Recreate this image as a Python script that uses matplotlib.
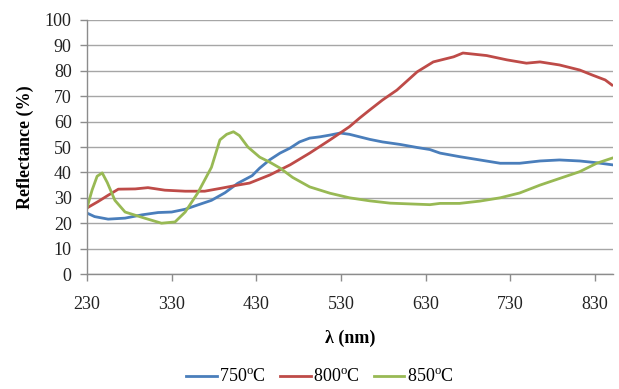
import matplotlib
matplotlib.use("Agg")
import matplotlib.pyplot as plt

plt.rcParams['font.family'] = ['Liberation Serif', 'DejaVu Serif']
plt.rcParams['mathtext.fontset'] = 'custom'
plt.rcParams['mathtext.rm'] = 'Liberation Serif'

# wavelength (nm) and reflectance (%) readings
wl_750 = [230, 239, 255, 275, 295, 314, 330, 346, 361, 377, 393, 408, 425, 434, 446, 458,
          470, 481, 493, 505, 517, 529, 540, 552, 564, 579, 600, 620, 635, 647, 670, 694,
          718, 741, 765, 788, 812, 832, 850]
r_750 = [24, 22.6, 21.6, 22, 23.3, 24.2, 24.4, 25.5, 27.2, 29, 32, 35.7, 38.7, 41.7, 45, 47.6,
         49.6, 52, 53.5, 54, 54.7, 55.5, 55, 54, 53, 52, 51, 49.8, 49, 47.6, 46.2, 44.9,
         43.6, 43.6, 44.5, 44.9, 44.5, 43.8, 43]

wl_800 = [230, 243, 255, 267, 287, 302, 322, 346, 369, 389, 408, 422, 446, 470, 493, 517,
          529, 540, 552, 564, 579, 596, 620, 639, 663, 674, 702, 726, 749, 765, 788, 812,
          827, 842, 850]
r_800 = [26, 28.5, 31, 33.4, 33.5, 34, 33, 32.6, 32.6, 33.8, 35, 35.8, 39, 43, 47.6, 52.8,
         55.5, 58, 61.4, 64.6, 68.5, 72.4, 79.6, 83.5, 85.5, 87, 86, 84.3, 83, 83.5, 82.3, 80.3,
         78.3, 76.4, 74.4]

wl_850 = [230, 236, 242, 248, 254, 263, 275, 298, 318, 334, 346, 361, 377, 387, 395, 403,
          410, 420, 434, 446, 458, 473, 493, 517, 540, 564, 588, 611, 635, 647, 670, 694,
          718, 741, 765, 788, 812, 832, 850]
r_850 = [26, 33, 38.5, 39.8, 36, 29, 24.4, 22, 20, 20.5, 24.4, 32, 42, 52.8, 55, 56,
         54.5, 50, 46, 44, 41.7, 38, 34.3, 31.8, 30, 28.8, 27.9, 27.6, 27.3, 27.8, 27.8, 28.7,
         30, 31.9, 35, 37.6, 40.3, 43.6, 45.6]

series_labels = ['750$^{\\mathrm{o}}$C', '800$^{\\mathrm{o}}$C', '850$^{\\mathrm{o}}$C']
x_ticks = [230, 330, 430, 530, 630, 730, 830]
y_ticks = list(range(0, 101, 10))

colors = ['#4a7ebb', '#be4b48', '#98b954']

fig = plt.figure(figsize=(6.19, 3.89), dpi=100)
ax = fig.add_axes([0.1405, 0.2956, 0.8495, 0.653])

for wl, r, lab, c in zip([wl_750, wl_800, wl_850], [r_750, r_800, r_850], series_labels, colors):
    ax.plot(wl, r, color=c, lw=2.0, label=lab)

ax.set_xlim(230, 851)
ax.set_ylim(0, 100)
ax.set_xticks(x_ticks)
ax.set_yticks(y_ticks)
ax.grid(axis='y', color='#a6a6a6', lw=1.0)
ax.set_axisbelow(True)
for s in ['top', 'right']:
    ax.spines[s].set_visible(False)
for s in ['left', 'bottom']:
    ax.spines[s].set_color('#8c8c8c')
    ax.spines[s].set_linewidth(1.0)
ax.tick_params(axis='both', colors='#8c8c8c', labelcolor='#222222', labelsize=13, length=5, width=1)
ax.tick_params(axis='x', pad=11)
ax.tick_params(axis='y', pad=6)

ax.set_xlabel('λ (nm)', fontsize=13, fontweight='bold', labelpad=12)
ax.set_ylabel('Reflectance (%)', fontsize=13, fontweight='bold', labelpad=8)

fig.legend(loc='lower center', bbox_to_anchor=(0.517, -0.035), ncol=3, frameon=False,
           fontsize=13, handlelength=1.7, handletextpad=0.15, columnspacing=0.75)

fig.savefig('out.png', dpi=100)
